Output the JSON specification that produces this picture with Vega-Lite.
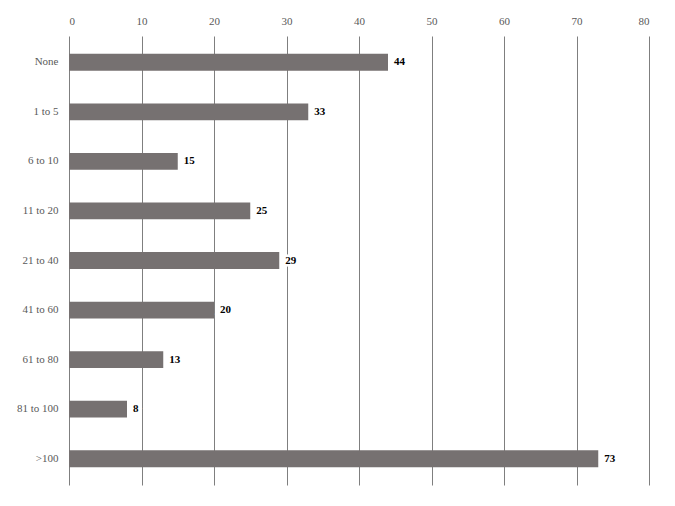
{
  "$schema": "https://vega.github.io/schema/vega-lite/v6.json",
  "autosize": "none",
  "width": 580,
  "height": 449,
  "padding": {"left": 69, "top": 36, "right": 26, "bottom": 21},
  "background": "white",
  "config": {
    "view": {"stroke": null},
    "font": "Liberation Serif"
  },
  "data": {
    "values": [
      {"group": "None", "count": 44},
      {"group": "1 to 5", "count": 33},
      {"group": "6 to 10", "count": 15},
      {"group": "11 to 20", "count": 25},
      {"group": "21 to 40", "count": 29},
      {"group": "41 to 60", "count": 20},
      {"group": "61 to 80", "count": 13},
      {"group": "81 to 100", "count": 8},
      {"group": ">100", "count": 73}
    ]
  },
  "encoding": {
    "y": {
      "field": "group",
      "type": "nominal",
      "sort": null,
      "scale": {"paddingInner": 0.66, "paddingOuter": 0.36},
      "axis": {
        "title": null,
        "domain": false,
        "ticks": false,
        "labelFont": "Liberation Serif",
        "labelFontSize": 11,
        "labelColor": "#595959",
        "labelPadding": 11
      }
    },
    "x": {
      "field": "count",
      "type": "quantitative",
      "scale": {"domain": [0, 80], "nice": false},
      "axis": {
        "orient": "top",
        "title": null,
        "values": [0, 10, 20, 30, 40, 50, 60, 70, 80],
        "domain": false,
        "ticks": false,
        "grid": true,
        "gridColor": "#7f7f7f",
        "gridWidth": 1,
        "labelFont": "Liberation Serif",
        "labelFontSize": 11,
        "labelColor": "#595959",
        "labelPadding": 10
      }
    }
  },
  "layer": [
    {
      "mark": {"type": "bar", "color": "#767171"}
    },
    {
      "mark": {
        "type": "text",
        "align": "left",
        "dx": 6,
        "font": "Liberation Serif",
        "fontSize": 11,
        "fontWeight": "bold",
        "stroke": "white",
        "strokeWidth": 5,
        "color": "white"
      },
      "encoding": {"text": {"field": "count", "type": "quantitative"}}
    },
    {
      "mark": {
        "type": "text",
        "align": "left",
        "dx": 6,
        "font": "Liberation Serif",
        "fontSize": 11,
        "fontWeight": "bold",
        "color": "black"
      },
      "encoding": {"text": {"field": "count", "type": "quantitative"}}
    }
  ]
}
